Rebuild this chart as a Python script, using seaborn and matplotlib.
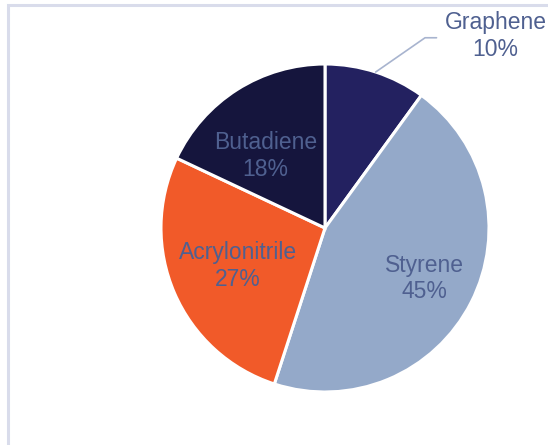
import numpy as np
import matplotlib
matplotlib.use("Agg")
import matplotlib.pyplot as plt
from matplotlib.patches import Rectangle
import seaborn as sns

sns.set_theme(style="white")
plt.rcParams["font.family"] = ["Liberation Sans", "DejaVu Sans"]

materials = ["Graphene", "Styrene", "Acrylonitrile", "Butadiene"]
shares = [10, 45, 27, 18]
colors = ["#232160", "#94A9C9", "#F15A29", "#15153D"]
text_color = "#4F6090"

W, H = 548, 445
fig = plt.figure(figsize=(W / 100, H / 100), dpi=100)
fig.patch.set_facecolor("white")

# light frame around the chart area (bottom/right run off the canvas)
fig.add_artist(Rectangle((7.5 / W, -0.05), 1.2, (H - 5.5) / H + 0.05,
                         transform=fig.transFigure, fill=False,
                         edgecolor="#D9DCEB", linewidth=2.2))

cx, cy, r = 325, H - 228, 164
ax = fig.add_axes([(cx - r) / W, (cy - r) / H, 2 * r / W, 2 * r / H])
wedges, _ = ax.pie(shares, colors=colors, startangle=90, counterclock=False,
                   radius=1.0,
                   wedgeprops=dict(edgecolor="white", linewidth=2.2))
ax.set_xlim(-1, 1)
ax.set_ylim(-1, 1)
ax.set_aspect("equal")
ax.axis("off")

label_dist = {"Styrene": 0.68, "Acrylonitrile": 0.58, "Butadiene": 0.57}
fs = 16.5
for w, name, val in zip(wedges, materials, shares):
    mid = np.deg2rad((w.theta1 + w.theta2) / 2)
    txt = f"{name}\n{val}%"
    if name in label_dist:
        d = label_dist[name]
        ang = mid
        if name == "Butadiene":
            ang = mid + np.deg2rad(7)
        ax.text(d * np.cos(ang), d * np.sin(ang), txt, ha="center",
                va="center", color=text_color, fontsize=fs,
                linespacing=1.2)
    else:
        ex, ey = np.cos(mid), np.sin(mid)
        ax.plot([ex, 0.61, 0.68], [ey, 1.16, 1.16], color="#A8B4CF",
                linewidth=1.2, clip_on=False)
        ax.text(1.04, 1.17, txt, ha="center", va="center",
                color=text_color, fontsize=fs, linespacing=1.2,
                clip_on=False)

fig.savefig("out.png", dpi=100, facecolor="white")
